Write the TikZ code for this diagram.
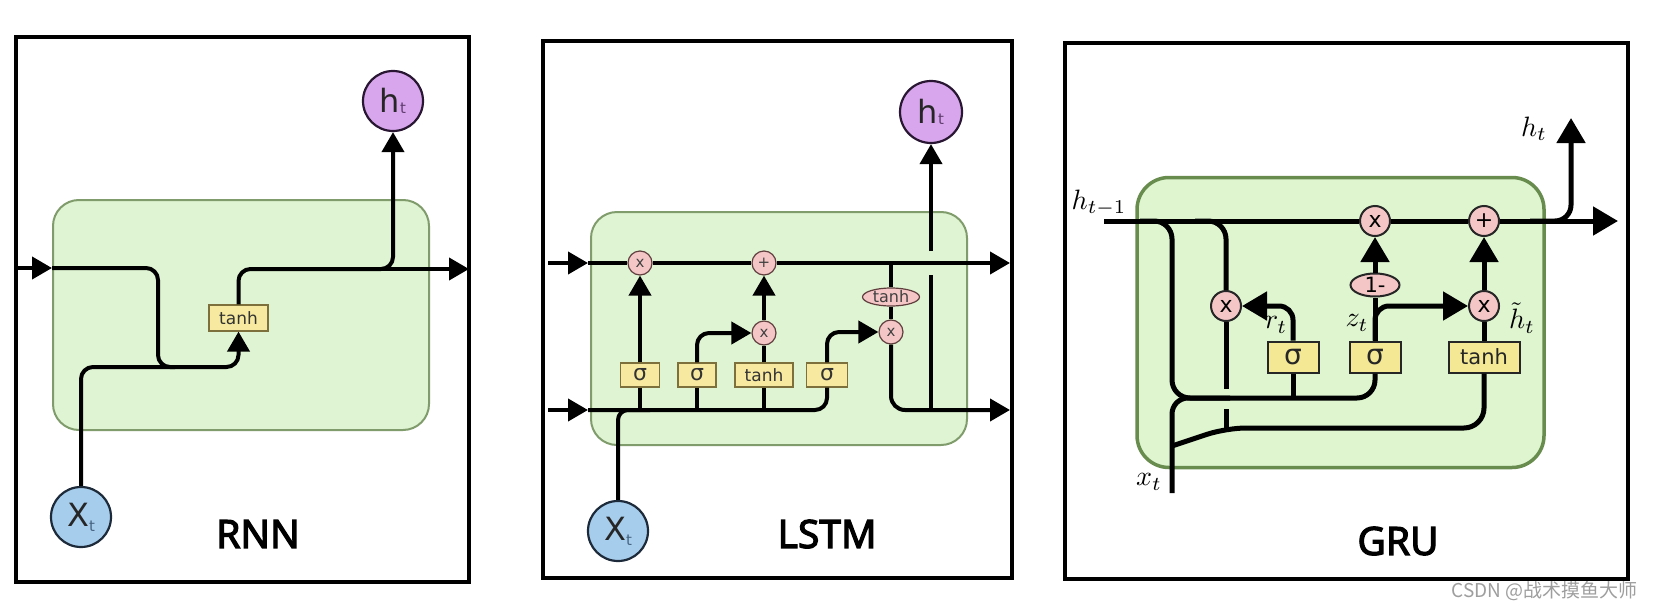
\documentclass[tikz,border=0pt]{standalone}
\usepackage{fontspec}
\setmainfont{DejaVu Sans}
\newfontfamily\labfont{Noto Sans}[FakeBold=3]
\newfontfamily\cjkfont{Noto Sans CJK SC}
\usetikzlibrary{arrows.meta,shapes.geometric}
\newcommand\fsz[1]{\fontsize{#1}{#1}\selectfont}
\definecolor{cellfill}{RGB}{223,244,210}
\definecolor{cellborder}{RGB}{128,156,108}
\definecolor{gcellfill}{RGB}{222,245,208}
\definecolor{gcellborder}{RGB}{104,140,78}
\definecolor{yfill}{RGB}{247,234,160}
\definecolor{yborder}{RGB}{125,112,60}
\definecolor{gyfill}{RGB}{244,232,148}
\definecolor{pfill}{RGB}{245,198,198}
\definecolor{pborder}{RGB}{95,62,62}
\definecolor{xfill}{RGB}{166,205,236}
\definecolor{xborder}{RGB}{28,42,58}
\definecolor{hfill}{RGB}{215,166,236}
\definecolor{hborder}{RGB}{40,22,50}
\definecolor{tcol}{RGB}{70,100,130}
\definecolor{htcol}{RGB}{95,60,110}
\tikzset{
  frame/.style={draw=black, line width=3.2},
  conn/.style={draw=black, line width=4, line join=round},
  gconn/.style={draw=black, line width=5, line join=round},
  arr/.style={-{Triangle[length=20pt,width=22pt]}},
  garr/.style={-{Triangle[length=25pt,width=28pt]}},
  cell/.style={draw=cellborder, fill=cellfill, line width=2, rounded corners=26, inner sep=0},
  gcell/.style={draw=gcellborder, fill=gcellfill, line width=3.5, rounded corners=32, inner sep=0},
  ybox/.style={draw=yborder, fill=yfill, line width=1.2, inner sep=0, minimum height=24, text=black!80},
  gybox/.style={draw=black!85, fill=gyfill, line width=2, inner sep=0, minimum height=31, minimum width=51, text=black!85},
  pcirc/.style={circle, draw=pborder, fill=pfill, line width=1.2, inner sep=0, minimum size=24, font=\fsz{15}, text=black!75},
  gpcirc/.style={circle, draw=black!85, fill=pfill, line width=2, inner sep=0, minimum size=30, font=\fsz{22}},
  xcirc/.style={circle, draw=xborder, fill=xfill, line width=2.2, inner sep=0, minimum size=60, font=\fsz{32}, text=black!85},
  hcirc/.style={circle, draw=hborder, fill=hfill, line width=2.2, inner sep=0, minimum size=60, font=\fsz{32}, text=black!85},
  title/.style={font=\labfont\fsz{39}, inner sep=0},
  mlab/.style={scale=2.8, inner sep=0},
}
\begin{document}
\begin{tikzpicture}[x=1pt,y=-1pt]
\useasboundingbox (0,0) rectangle (1653,610);
\fill[white] (0,0) rectangle (1653,610);

% ================= RNN =================
\draw[frame] (16,37) rectangle (469,582);
\node[cell, minimum width=376, minimum height=230] (rcell) at (241,315) {};
\node[ybox, minimum width=59, minimum height=26, font=\fsz{17}] (rtanh) at (238.5,318) {tanh};
\node[xcirc] (rx) at (81,517) {X\raisebox{-0.15em}{\fsz{15}\color{tcol}t}};
\node[hcirc] (rh) at (393,101) {h\raisebox{-0.05em}{\fsz{15}\color{htcol}t}};
\coordinate (rin) at (16,268);
\coordinate (rinend) at (52,268);
\coordinate (rout) at (469,269);
\draw[conn,arr] (rin) -- (rinend);
\draw[conn,arr,rounded corners=12] (rinend) -- (158,268) -- (158,367) -- (238.5,367) -- (rtanh.south);
\draw[conn,rounded corners=12] (rx.north) -- (81,367) -- (175,367);
\draw[conn,arr,rounded corners=12] (rtanh.north) -- (238.5,269) -- (393,269) -- (rh.south);
\draw[conn,arr] (380,269) -- (rout);
\node[title] (trnn) at (258,534) {RNN};

% ================= LSTM =================
\draw[frame] (543,41) rectangle (1012,578);
\node[cell, minimum width=376, minimum height=233] (lcell) at (779,328.5) {};
\node[pcirc] (lm1) at (640,263) {x};
\node[pcirc] (lpl) at (764,263) {+};
\node[pcirc] (lm2) at (764,333) {x};
\node[pcirc] (lm3) at (891,332) {x};
\node[ellipse, draw=pborder, fill=pfill, line width=1.2, inner sep=0, minimum width=57, minimum height=18, font=\fsz{16}, text=black!75] (lth2) at (891,297) {tanh};
\node[ybox, minimum width=39, font=\fsz{22}] (ls1) at (640,375) {σ};
\node[ybox, minimum width=38, font=\fsz{22}] (ls2) at (697,375) {σ};
\node[ybox, minimum width=58, font=\fsz{17}] (ltb) at (764,375) {tanh};
\node[ybox, minimum width=41, font=\fsz{22}] (ls3) at (827,375) {σ};
\node[hcirc, minimum size=62] (lh) at (931,112) {h\raisebox{-0.05em}{\fsz{15}\color{htcol}t}};
\node[xcirc] (lx) at (618,531) {X\raisebox{-0.15em}{\fsz{15}\color{tcol}t}};
\coordinate (lcin) at (548,263);
\coordinate (lcinend) at (588,263);
\coordinate (lcout) at (1010,263);
\coordinate (lhin) at (548,410);
\coordinate (lhinend) at (588,410);
\coordinate (lhout) at (1010,410);
% cell state line
\draw[conn,arr] (lcin) -- (lcinend);
\draw[conn] (lcinend) -- (lm1);
\draw[conn] (lm1) -- (lpl);
\draw[conn,arr] (lpl) -- (lcout);
% hidden input line
\draw[conn,arr] (lhin) -- (lhinend);
\draw[conn,rounded corners=12] (lhinend) -- (827,410) -- (ls3.south);
\draw[conn,rounded corners=10] (lx.north) -- (618,410) -- (650,410);
% gates
\draw[conn] (640,410) -- (ls1.south);
\draw[conn,arr] (ls1.north) -- (lm1.south);
\draw[conn] (697,410) -- (ls2.south);
\draw[conn,arr,rounded corners=12] (ls2.north) |- (lm2);
\draw[conn] (764,410) -- (ltb.south);
\draw[conn] (ltb.north) -- (lm2.south);
\draw[conn,arr] (lm2.north) -- (lpl.south);
\draw[conn,arr,rounded corners=12] (ls3.north) |- (lm3);
\draw[conn] (891,263) -- (lth2.north);
\draw[conn] (lth2.south) -- (lm3.north);
\draw[conn,arr,rounded corners=14] (lm3.south) -- (891,410) -- (lhout);
\draw[conn] (931,410) -- (931,275);
\draw[conn,arr] (931,251) -- (lh.south);
\node[title] (tlstm) at (827,534) {LSTM};

% ================= GRU =================
\draw[frame] (1065,43) rectangle (1628,579);
\node[gcell, minimum width=407, minimum height=290] (gcell) at (1340.5,322.5) {};
\node[gpcirc] (gm1) at (1375,221) {x};
\node[gpcirc] (gpl) at (1484,221) {+};
\node[ellipse, draw=black!85, fill=pfill, line width=2, inner sep=0, minimum width=49, minimum height=23, font=\fsz{21}] (gone) at (1375,285) {1-};
\node[gpcirc] (gmr) at (1226,306) {x};
\node[gpcirc] (gmh) at (1484,306) {x};
\node[gybox, font=\fsz{28}] (gsr) at (1293,357) {σ};
\node[gybox, font=\fsz{28}] (gsz) at (1375,357) {σ};
\node[gybox, minimum width=71, font=\fsz{21}] (gth) at (1484,357) {tanh};
\coordinate (gin) at (1104,221);
\coordinate (gout) at (1618,221);
\coordinate (gup) at (1571,118);
\coordinate (gx) at (1172,493);
% main line
\draw[gconn] (gin) -- (gm1);
\draw[gconn] (gm1) -- (gpl);
\draw[gconn,garr] (gpl) -- (gout);
\draw[gconn,garr,rounded corners=16] (1530,221) -- (1571,221) -- (gup);
% h_{t-1} to gates
\draw[gconn,rounded corners=18] (1140,221) -- (1172,221) -- (1172,398) -- (1375,398) -- (gsz.south);
\draw[gconn] (gsr.south) -- (1293,398);
\draw[gconn,rounded corners=18] (1195,221) -- (1226,221) -- (gmr.north);
\draw[gconn] (gmr.south) -- (1226,389);
\draw[gconn] (1226,409) -- (1226,428);
% x_t
\draw[gconn,rounded corners=16] (gx) -- (1172,398) -- (1230,398);
\draw[gconn,rounded corners=20] (1172,446) -- (1226,428) -- (1484,428) -- (gth.south);
% gates up
\draw[gconn,garr,rounded corners=14] (gsr.north) |- (gmr);
\draw[gconn] (gsz.north) -- (gone.south);
\draw[gconn,garr,rounded corners=14] (gsz.north) |- (gmh);
\draw[gconn,garr] (gone.north) -- (gm1.south);
\draw[gconn] (gth.north) -- (gmh.south);
\draw[gconn,garr] (gmh.north) -- (gpl.south);
% labels
\node[mlab] (lht1) at (1099,203) {$h_{t-1}$};
\node[mlab] (lhtt) at (1534,129) {$h_t$};
\node[mlab] (lrt) at (1276,325) {$r_t$};
\node[mlab] (lzt) at (1357,323) {$z_t$};
\node[mlab] (lhtil) at (1522,318) {$\tilde{h}_t$};
\node[mlab] (lxt) at (1149,482) {$x_t$};
\node[title] (tgru) at (1398,541) {GRU};

% watermark
\node[font=\cjkfont\fsz{19}, text=black!38, anchor=east, inner sep=0] (wm) at (1638,591) {CSDN @战术摸鱼大师};
\end{tikzpicture}
\end{document}
